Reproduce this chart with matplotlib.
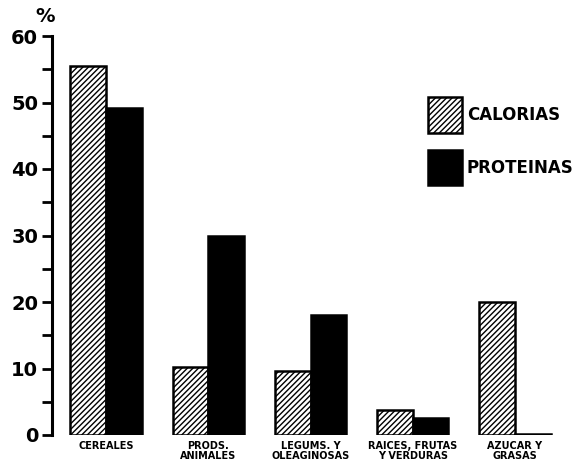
import matplotlib
matplotlib.use("Agg")
import matplotlib.pyplot as plt
from matplotlib.patches import Rectangle
import numpy as np

categories = ["CEREALES", "PRODS.\nANIMALES", "LEGUMS. Y\nOLEAGINOSAS", "RAICES, FRUTAS\nY VERDURAS", "AZUCAR Y\nGRASAS"]
calorias = [55.5, 10.2, 9.6, 3.8, 20.0]
proteinas = [49.2, 30.0, 18.0, 2.6, 0.2]
yticks = [0, 10, 20, 30, 40, 50, 60]
series_names = ["CALORIAS", "PROTEINAS"]

plt.rcParams['hatch.linewidth'] = 1.0
fig = plt.figure(figsize=(5.86, 4.66), dpi=100)
ax = fig.add_axes([52/586, 1-435/466, (566-52)/586, (435-36)/466])

x = np.arange(len(categories))
w = 0.35
ax.bar(x - w/2, calorias, w, color="white", edgecolor="black", hatch="//////", linewidth=1.8)
ax.bar(x + w/2, proteinas, w, color="black", edgecolor="black", linewidth=1.8)

ax.set_xlim(-0.53, 4.5)
ax.set_ylim(0, 60)
for s in ["top", "right", "bottom"]:
    ax.spines[s].set_visible(False)
ax.spines["left"].set_linewidth(2.2)
ax.set_yticks(yticks)
ax.set_yticks(np.arange(5, 60, 10), minor=True)
ax.tick_params(axis="y", which="both", direction="out", length=7, width=2, labelsize=14, pad=3)
for lbl in ax.get_yticklabels():
    lbl.set_fontweight("bold")
ax.set_xticks(x)
ax.set_xticklabels(categories, fontsize=7, fontweight="bold", linespacing=1.0)
ax.tick_params(axis="x", length=0, pad=4)

fig.text(45/586, 1-16/466, "%", fontsize=14, fontweight="bold", ha="center", va="center")

# legend
fig.patches.append(Rectangle((428/586, 1-133/466), 34/586, 36/466, transform=fig.transFigure,
                             facecolor="white", edgecolor="black", hatch="//////", linewidth=1.8))
fig.patches.append(Rectangle((428/586, 1-185/466), 34/586, 35/466, transform=fig.transFigure,
                             facecolor="black", edgecolor="black", linewidth=1.8))
fig.text(467/586, 1-115/466, series_names[0], fontsize=12, fontweight="bold", va="center")
fig.text(467/586, 1-168/466, series_names[1], fontsize=12, fontweight="bold", va="center")

fig.savefig("out.png", dpi=100)
